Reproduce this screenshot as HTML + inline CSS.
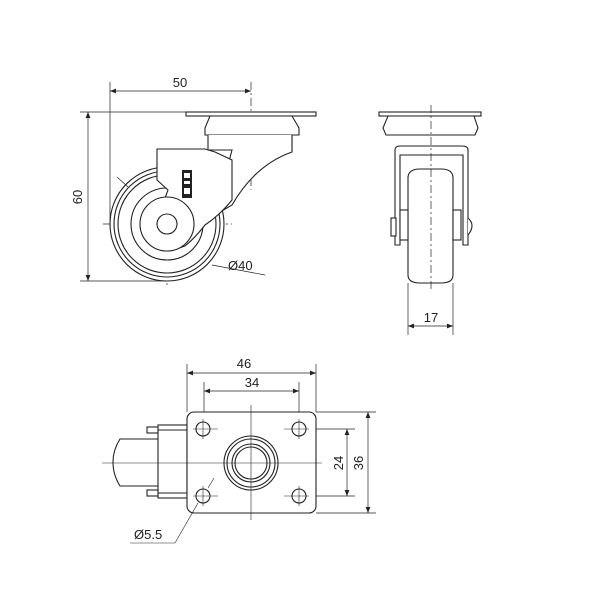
<!DOCTYPE html>
<html><head><style>
html,body{margin:0;padding:0;background:#fff;}
svg{display:block;}
text{font-family:"Liberation Sans",sans-serif;font-size:13px;fill:#222;}
</style></head><body>
<svg width="600" height="600" viewBox="0 0 600 600" xmlns="http://www.w3.org/2000/svg">
<defs>
<marker id="a" viewBox="0 0 10 10" refX="10" refY="5" markerWidth="8" markerHeight="6" orient="auto-start-reverse" markerUnits="userSpaceOnUse"><path d="M0,1 L10,5 L0,9 z" fill="#222"/></marker>
</defs>
<g stroke="#222" fill="none" stroke-width="0.7">
<line x1="110" y1="82" x2="110" y2="228"/>
<line x1="110" y1="91" x2="251" y2="91" marker-start="url(#a)" marker-end="url(#a)"/>
<line x1="80" y1="112" x2="186" y2="112"/>
<line x1="80" y1="281" x2="167" y2="281"/>
<line x1="88" y1="112" x2="88" y2="281" marker-start="url(#a)" marker-end="url(#a)"/>
<line x1="251" y1="82" x2="251" y2="190" stroke-dasharray="8,3,2,3"/>
<line x1="167" y1="160" x2="167" y2="288" stroke-dasharray="8,3,2,3"/>
<line x1="103" y1="224" x2="232" y2="224" stroke-dasharray="8,3,2,3"/>
</g>
<g stroke="#222" fill="#fff" stroke-width="1.1">
<rect x="186" y="112" width="130" height="4"/>
<path d="M210,116 L292,116 L299,128 L299,135 L205,135 L205,128 Z"/>
<path d="M208,135 L208,150 L292,150 L292,135"/>
<path d="M292,135 L292,152 Q255,165 232,205 L215,215 L232,150"/>
<circle cx="167" cy="224" r="57"/>
<circle cx="167" cy="224" r="53"/>
<circle cx="167" cy="224" r="49"/>
<circle cx="167" cy="224" r="36"/>
<path d="M157,149 L205,149 L215,152 L232,160 L232,200 Q220,215 205,225 Q195,238 185,246 Q170,252 158,244 L155,225 L168,190 L157,180 Z"/>
<circle cx="167" cy="224" r="27"/>
<circle cx="167" cy="224" r="10"/>
</g>
<rect x="182" y="170" width="10" height="28" fill="#222"/>
<rect x="184" y="173" width="6" height="5" fill="#fff"/>
<rect x="184" y="181" width="6" height="3" fill="#fff"/>
<rect x="184" y="188" width="6" height="6" fill="#fff"/>
<g stroke="#222" stroke-width="0.7" fill="none">
<line x1="128" y1="187" x2="117" y2="177"/>
<line x1="212" y1="265" x2="265" y2="275"/>
</g>
<text x="180" y="87" text-anchor="middle">50</text>
<text x="0" y="0" transform="translate(82,197) rotate(-90)" text-anchor="middle">60</text>
<text x="228" y="270">Ø40</text>

<g stroke="#222" fill="#fff" stroke-width="1.1">
<rect x="379" y="112" width="102" height="4"/>
<path d="M388,116 L474,116 L478,128 L475,135 L386,135 L383,128 Z"/>
<path d="M395,150 Q395,146 400,146 L462,146 Q468,146 468,150 L468,245 L463,245 L463,155 L400,155 L400,245 L395,245 Z"/>
<path d="M408,178 Q408,169 420,169 L441,169 Q453,169 453,178 L453,275 Q453,283 441,283 L420,283 Q408,283 408,275 Z"/>
<rect x="400" y="210" width="8" height="30"/>
<rect x="453" y="210" width="8" height="30"/>
<path d="M468,218 Q476,225 468,235"/>
<rect x="391" y="218" width="5" height="18"/>
</g>
<g stroke="#222" stroke-width="0.7" fill="none">
<line x1="431" y1="105" x2="431" y2="292" stroke-dasharray="8,3,2,3"/>
<line x1="408" y1="283" x2="408" y2="335"/>
<line x1="453" y1="283" x2="453" y2="335"/>
<line x1="408" y1="326" x2="453" y2="326" marker-start="url(#a)" marker-end="url(#a)"/>
</g>
<text x="431" y="322" text-anchor="middle">17</text>

<g stroke="#222" stroke-width="0.7" fill="none">
<line x1="187" y1="364" x2="187" y2="412"/>
<line x1="316" y1="364" x2="316" y2="412"/>
<line x1="204" y1="382" x2="204" y2="435"/>
<line x1="299" y1="382" x2="299" y2="435"/>
<line x1="187" y1="373" x2="316" y2="373" marker-start="url(#a)" marker-end="url(#a)"/>
<line x1="204" y1="391" x2="299" y2="391" marker-start="url(#a)" marker-end="url(#a)"/>
<line x1="316" y1="412" x2="376" y2="412"/>
<line x1="316" y1="513" x2="376" y2="513"/>
<line x1="285" y1="429" x2="355" y2="429"/>
<line x1="285" y1="496" x2="355" y2="496"/>
<line x1="347" y1="429" x2="347" y2="496" marker-start="url(#a)" marker-end="url(#a)"/>
<line x1="368" y1="412" x2="368" y2="513" marker-start="url(#a)" marker-end="url(#a)"/>
</g>
<g stroke="#222" fill="#fff" stroke-width="1.1">
<path d="M158,439 L120,439 Q113,450 113,462 Q113,475 120,486 L158,486"/>
<rect x="158" y="425" width="29" height="73"/>
<line x1="158" y1="430" x2="187" y2="430"/>
<line x1="158" y1="493" x2="187" y2="493"/>
<rect x="147" y="427" width="11" height="6"/>
<rect x="147" y="490" width="11" height="6"/>
<rect x="187" y="412" width="129" height="101" rx="7"/>
<circle cx="203" cy="429" r="7"/>
<circle cx="299" cy="429" r="7"/>
<circle cx="203" cy="496" r="7"/>
<circle cx="299" cy="496" r="7"/>
<circle cx="251" cy="463" r="27"/>
<circle cx="251" cy="463" r="24"/>
<circle cx="251" cy="463" r="19"/>
<circle cx="251" cy="463" r="16"/>
</g>
<g stroke="#222" stroke-width="0.6" fill="none">
<line x1="102" y1="463" x2="322" y2="463"/>
<line x1="251" y1="405" x2="251" y2="520"/>
<line x1="193" y1="429" x2="218" y2="429"/><line x1="203" y1="419" x2="203" y2="439"/>
<line x1="284" y1="429" x2="309" y2="429"/><line x1="299" y1="419" x2="299" y2="439"/>
<line x1="193" y1="496" x2="218" y2="496"/><line x1="203" y1="486" x2="203" y2="506"/>
<line x1="284" y1="496" x2="309" y2="496"/><line x1="299" y1="486" x2="299" y2="506"/>
<line x1="214" y1="478" x2="208" y2="488"/>
<polyline points="198,503 175,543 130,543"/>
</g>
<text x="244" y="368" text-anchor="middle">46</text>
<text x="252" y="387" text-anchor="middle">34</text>
<text x="0" y="0" transform="translate(343,463) rotate(-90)" text-anchor="middle">24</text>
<text x="0" y="0" transform="translate(363,463) rotate(-90)" text-anchor="middle">36</text>
<text x="134" y="539">Ø5.5</text>
</svg>
</body></html>
